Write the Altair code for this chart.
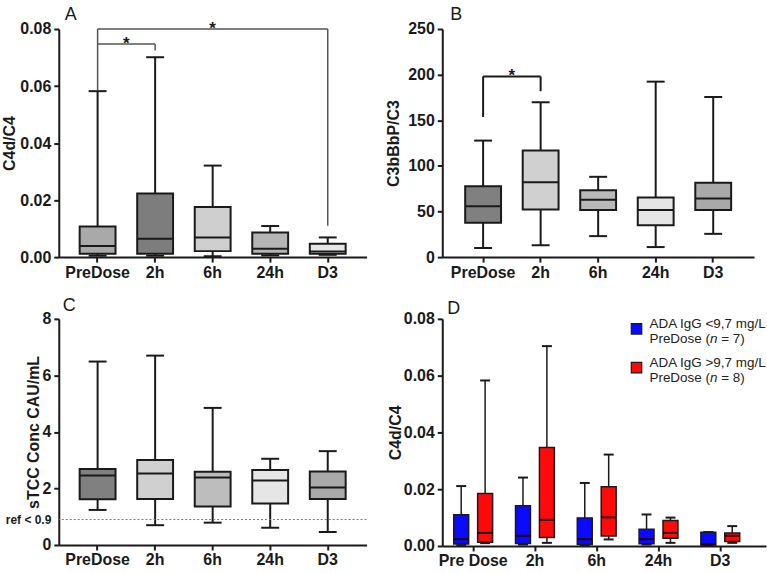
import altair as alt
import pandas as pd

INK = "#1a1a1a"
FONT = "Liberation Sans"

CATS = ["PreDose", "2h", "6h", "24h", "D3"]
CATS_D = ["Pre Dose", "2h", "6h", "24h", "D3"]

# Panel A: C4d/C4 box statistics per time point
A_MIN = [0.0005, 0.0005, 0.0003, 0.0006, 0.0008]
A_Q1 = [0.0012, 0.0012, 0.0021, 0.0012, 0.0012]
A_MED = [0.0039, 0.0064, 0.0069, 0.0029, 0.0020]
A_Q3 = [0.0107, 0.0223, 0.0176, 0.0086, 0.0047]
A_MAX = [0.0582, 0.0701, 0.0321, 0.0109, 0.0069]
A_FILL = ["#a9a9a9", "#7d7d7d", "#cfcfcf", "#b5b5b5", "#e6e6e6"]

# Panel B: C3bBbP/C3
B_MIN = [10.0, 13.0, 23.0, 11.0, 25.5]
B_Q1 = [37.6, 52.2, 51.5, 35.0, 51.5]
B_MED = [55.8, 82.1, 62.8, 51.5, 64.2]
B_Q3 = [77.7, 116.8, 73.4, 65.3, 81.4]
B_MAX = [127.7, 169.7, 88.0, 192.3, 175.5]
B_FILL = ["#808080", "#d0d0d0", "#b9b9b9", "#e6e6e6", "#a9a9a9"]

# Panel C: sTCC concentration (CAU/mL)
C_MIN = [1.24, 0.70, 0.79, 0.61, 0.46]
C_Q1 = [1.62, 1.63, 1.36, 1.47, 1.63]
C_MED = [2.46, 2.53, 2.39, 2.28, 2.03]
C_Q3 = [2.69, 3.01, 2.59, 2.65, 2.60]
C_MAX = [6.49, 6.70, 4.85, 3.05, 3.32]
C_FILL = ["#808080", "#d0d0d0", "#bdbdbd", "#e6e6e6", "#a9a9a9"]
C_REF = 0.9

# Panel D: C4d/C4 split by pre-dose ADA IgG level
D_LOW_MIN = [0.0003, 0.0005, 0.0003, 0.0005, 0.0002]
D_LOW_Q1 = [0.0007, 0.0009, 0.0005, 0.0008, 0.0003]
D_LOW_MED = [0.0024, 0.0036, 0.0024, 0.0024, 0.0005]
D_LOW_Q3 = [0.0110, 0.0142, 0.0099, 0.0059, 0.0048]
D_LOW_MAX = [0.0211, 0.0241, 0.0222, 0.0111, 0.0049]
D_HIGH_MIN = [0.0010, 0.0011, 0.0023, 0.0011, 0.0011]
D_HIGH_Q1 = [0.0013, 0.0030, 0.0035, 0.0027, 0.0016]
D_HIGH_MED = [0.0046, 0.0092, 0.0101, 0.0046, 0.0036]
D_HIGH_Q3 = [0.0185, 0.0347, 0.0209, 0.0090, 0.0046]
D_HIGH_MAX = [0.0583, 0.0704, 0.0322, 0.0100, 0.0070]
D_GROUPS = ["low", "high"]
D_COLORS = ["#0a0aff", "#ff0a0a"]
D_LEGEND_L1 = ["ADA IgG <9,7 mg/L", "ADA IgG >9,7 mg/L"]
D_LEGEND_N = ["= 7)", "= 8)"]

# Significance brackets: vertical legs, horizontal spans
A_LEG_CAT = ["PreDose", "2h", "D3"]
A_LEG_LO = [0.0585, 0.0725, 0.0110]
A_LEG_HI = [0.0800, 0.0747, 0.0800]
A_SPAN_FROM = ["PreDose", "PreDose"]
A_SPAN_TO = ["D3", "2h"]
A_SPAN_Y = [0.0800, 0.0747]
B_LEG_CAT = ["PreDose", "2h"]
B_LEG_LO = [153.6, 181.8]
B_LEG_HI = [198.0, 198.0]
B_SPAN_FROM = ["PreDose"]
B_SPAN_TO = ["2h"]
B_SPAN_Y = [198.0]


def stats_frame(cats, lo, q1, med, q3, hi, fill, group=None):
    df = pd.DataFrame({"cat": cats, "lo": lo, "q1": q1, "med": med,
                       "q3": q3, "hi": hi, "fill": fill})
    if group is not None:
        df["grp"] = group
    return df


def box_layers(df, x_enc, y_scale, y_axis, y_title, box_w, cap_w, sw,
               offset=None, med_color=INK):
    enc = {"x": x_enc}
    if offset is not None:
        enc["xOffset"] = offset
    y_main = alt.Y("lo:Q", scale=y_scale, axis=y_axis, title=y_title)
    base = alt.Chart(df)
    whisker = base.mark_rule(color=INK, strokeWidth=sw).encode(
        y=y_main, y2="hi:Q", **enc)
    box = base.mark_bar(size=box_w, stroke=INK, strokeWidth=sw, opacity=1).encode(
        y=alt.Y("q1:Q", scale=y_scale), y2="q3:Q",
        color=alt.Color("fill:N", scale=None), **enc)
    median = base.mark_tick(size=box_w, thickness=2, color=med_color,
                            opacity=1).encode(y=alt.Y("med:Q", scale=y_scale), **enc)
    cap_hi = base.mark_tick(size=cap_w, thickness=2, color=INK, opacity=1).encode(
        y=alt.Y("hi:Q", scale=y_scale), **enc)
    cap_lo = base.mark_tick(size=cap_w, thickness=2, color=INK, opacity=1).encode(
        y=alt.Y("lo:Q", scale=y_scale), **enc)
    return [whisker, cap_hi, cap_lo, box, median]


def bracket_layers(x_scale, y_scale, leg_cat, leg_lo, leg_hi,
                   span_from, span_to, span_y, color, sw):
    legs = pd.DataFrame({"cat": leg_cat, "lo": leg_lo, "hi": leg_hi})
    spans = pd.DataFrame({"cat": span_from, "c2": span_to, "y": span_y})
    leg = alt.Chart(legs).mark_rule(color=color, strokeWidth=sw).encode(
        x=alt.X("cat:N", scale=x_scale), y=alt.Y("lo:Q", scale=y_scale), y2="hi:Q")
    span = alt.Chart(spans).mark_rule(color=color, strokeWidth=sw).encode(
        x=alt.X("cat:N", scale=x_scale), x2="c2:N", y=alt.Y("y:Q", scale=y_scale))
    return [leg, span]


def star(cat, yval, band_pos, x_scale, y_scale):
    df = pd.DataFrame({"cat": [cat], "y": [yval], "t": ["*"]})
    return alt.Chart(df).mark_text(
        font=FONT, fontSize=17, fontWeight="bold", color=INK,
        baseline="alphabetic", dy=5).encode(
        x=alt.X("cat:N", scale=x_scale, bandPosition=band_pos),
        y=alt.Y("y:Q", scale=y_scale), text="t:N")


def letter(txt, x, y):
    return alt.Chart(pd.DataFrame({"k": [0]})).mark_text(
        font=FONT, fontSize=18, color=INK, align="left",
        baseline="alphabetic").encode(
        x=alt.value(x), y=alt.value(y), text=alt.value(txt))


x_axis = alt.Axis(title=None, labelAngle=0, labelPadding=2)

# ---------- Panel A ----------
sx_a = alt.Scale(domain=CATS, paddingInner=0, paddingOuter=0.175)
sy_a = alt.Scale(domain=[0, 0.08], nice=False)
xa = alt.X("cat:N", scale=sx_a, axis=x_axis)
df_a = stats_frame(CATS, A_MIN, A_Q1, A_MED, A_Q3, A_MAX, A_FILL)
ax_a = alt.Axis(values=[0, 0.02, 0.04, 0.06, 0.08], format=".2f", titleX=-41)
panel_a = alt.layer(
    *box_layers(df_a, xa, sy_a, ax_a, "C4d/C4", 36, 18, 2),
    *bracket_layers(sx_a, sy_a, A_LEG_CAT, A_LEG_LO, A_LEG_HI,
                    A_SPAN_FROM, A_SPAN_TO, A_SPAN_Y, "#555555", 1.5),
    star("6h", A_SPAN_Y[0], 0.5, sx_a, sy_a),
    star("PreDose", A_SPAN_Y[1], 1.0, sx_a, sy_a),
    letter("A", 6, -9),
).properties(width=309, height=229)

# ---------- Panel B ----------
sx_b = alt.Scale(domain=CATS, paddingInner=0, paddingOuter=0.21)
sy_b = alt.Scale(domain=[0, 250], nice=False)
xb = alt.X("cat:N", scale=sx_b, axis=x_axis)
df_b = stats_frame(CATS, B_MIN, B_Q1, B_MED, B_Q3, B_MAX, B_FILL)
ax_b = alt.Axis(values=[0, 50, 100, 150, 200, 250], titleX=-41)
panel_b = alt.layer(
    *box_layers(df_b, xb, sy_b, ax_b, "C3bBbP/C3", 36, 18, 2),
    *bracket_layers(sx_b, sy_b, B_LEG_CAT, B_LEG_LO, B_LEG_HI,
                    B_SPAN_FROM, B_SPAN_TO, B_SPAN_Y, INK, 2),
    star("PreDose", B_SPAN_Y[0], 1.0, sx_b, sy_b),
    letter("B", 8, -9),
).properties(width=313, height=229)

# ---------- Panel C ----------
sx_c = alt.Scale(domain=CATS, paddingInner=0, paddingOuter=0.175)
sy_c = alt.Scale(domain=[0, 8], nice=False)
xc = alt.X("cat:N", scale=sx_c, axis=x_axis)
df_c = stats_frame(CATS, C_MIN, C_Q1, C_MED, C_Q3, C_MAX, C_FILL)
ax_c = alt.Axis(
    values=[0, C_REF, 2, 4, 6, 8], titleX=-17,
    labelExpr="datum.value == %s ? 'ref < %s' : datum.label" % (C_REF, C_REF),
    labelFontSize={"condition": {"test": "datum.value == %s" % C_REF, "value": 12}, "value": 16},
    tickOpacity={"condition": {"test": "datum.value == %s" % C_REF, "value": 0}, "value": 1},
)
ref_c = alt.Chart(pd.DataFrame({"ref": [C_REF]})).mark_rule(
    color="#777777", strokeWidth=1, strokeDash=[2, 2]).encode(
    y=alt.Y("ref:Q", scale=sy_c))
panel_c = alt.layer(
    *box_layers(df_c, xc, sy_c, ax_c, "sTCC Conc CAU/mL", 36, 18, 2),
    ref_c,
    letter("C", 4, -8),
).properties(width=309, height=227)

# ---------- Panel D ----------
sx_d = alt.Scale(domain=CATS_D, paddingInner=0, paddingOuter=0.12, align=0)
sy_d = alt.Scale(domain=[0, 0.08], nice=False)
xd = alt.X("cat:N", scale=sx_d, axis=x_axis)
off_d = alt.XOffset("grp:N",
                    scale=alt.Scale(domain=D_GROUPS, paddingInner=0.375, paddingOuter=0.479))
df_d = pd.concat([
    stats_frame(CATS_D, D_LOW_MIN, D_LOW_Q1, D_LOW_MED, D_LOW_Q3, D_LOW_MAX,
                [D_COLORS[0]] * 5, D_GROUPS[0]),
    stats_frame(CATS_D, D_HIGH_MIN, D_HIGH_Q1, D_HIGH_MED, D_HIGH_Q3, D_HIGH_MAX,
                [D_COLORS[1]] * 5, D_GROUPS[1]),
], ignore_index=True)
ax_d = alt.Axis(values=[0, 0.02, 0.04, 0.06, 0.08], format=".2f", titleX=-39)


def legend_item(i, y_top):
    one = alt.Chart(pd.DataFrame({"k": [0]}))
    txt = dict(font=FONT, fontSize=13.5, color="#222222", align="left",
               baseline="alphabetic")
    sq = one.mark_square(size=110, filled=True, color=D_COLORS[i],
                         stroke=INK, strokeWidth=1.2, opacity=1).encode(
        x=alt.value(195), y=alt.value(y_top + 1))
    l1 = one.mark_text(**txt).encode(x=alt.value(208), y=alt.value(y_top),
                                     text=alt.value(D_LEGEND_L1[i]))
    l2a = one.mark_text(**txt).encode(x=alt.value(208), y=alt.value(y_top + 15),
                                      text=alt.value("PreDose ("))
    l2b = one.mark_text(fontStyle="italic", **txt).encode(
        x=alt.value(268.8), y=alt.value(y_top + 15), text=alt.value("n"))
    l2c = one.mark_text(**txt).encode(x=alt.value(280), y=alt.value(y_top + 15),
                                      text=alt.value(D_LEGEND_N[i]))
    return [sq, l1, l2a, l2b, l2c]


panel_d = alt.layer(
    *box_layers(df_d, xd, sy_d, ax_d, "C4d/C4", 15, 10, 1.5, offset=off_d,
                med_color="#220000"),
    *legend_item(0, 9),
    *legend_item(1, 48),
    letter("D", 5, -5),
).properties(width=325, height=228)

chart = alt.concat(
    panel_a, panel_b, panel_c, panel_d,
    columns=2, spacing={"row": 62, "column": 76}, bounds="flush",
).configure(
    padding={"left": 2, "top": 5, "right": 0, "bottom": 0},
    background="white",
).configure_view(
    stroke=None
).configure_axis(
    domainColor=INK, domainWidth=2, tickColor=INK, tickWidth=2, tickSize=5,
    labelFont=FONT, labelFontWeight="bold", labelFontSize=16, labelColor=INK,
    titleFont=FONT, titleFontWeight="bold", titleFontSize=16, titleColor=INK,
    grid=False, labelPadding=3,
)

chart.save("out.html", embed_options={"renderer": "svg", "actions": False})
